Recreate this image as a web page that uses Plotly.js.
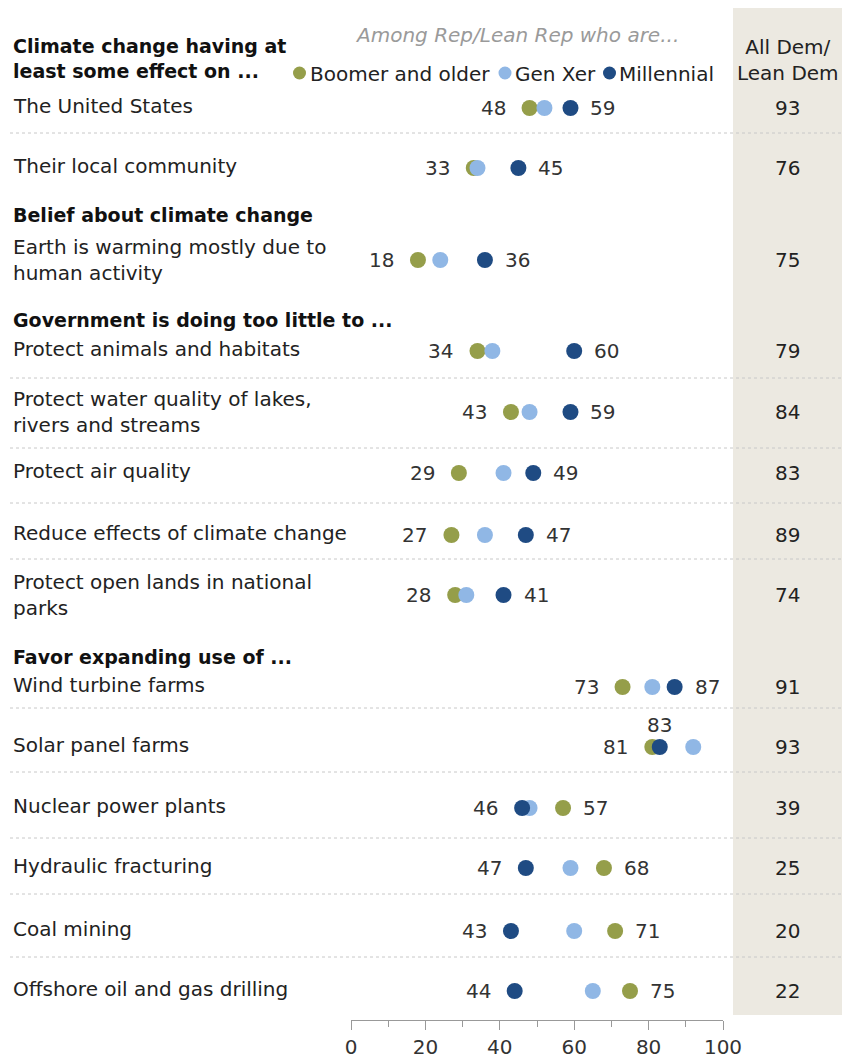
<!DOCTYPE html>
<html>
<head>
<meta charset="utf-8">
<script src="https://cdn.plot.ly/plotly-3.0.1.min.js"></script>
<style>html,body{margin:0;padding:0;background:#fff;}#chart{width:842px;height:1062px;}</style>
</head>
<body>
<div id="chart"></div>
<script>
// ---------- DATA ----------
var categories = [
  "The United States",
  "Their local community",
  "Earth is warming mostly due to<br>human activity",
  "Protect animals and habitats",
  "Protect water quality of lakes,<br>rivers and streams",
  "Protect air quality",
  "Reduce effects of climate change",
  "Protect open lands in national<br>parks",
  "Wind turbine farms",
  "Solar panel farms",
  "Nuclear power plants",
  "Hydraulic fracturing",
  "Coal mining",
  "Offshore oil and gas drilling"
];
var boomer     = [48, 33, 18, 34, 43, 29, 27, 28, 73, 81, 57, 68, 71, 75];
var genX       = [52, 34, 24, 38, 48, 41, 36, 31, 81, 92, 48, 59, 60, 65];
var millennial = [59, 45, 36, 60, 59, 49, 47, 41, 87, 83, 46, 47, 43, 44];
var allDem     = [93, 76, 75, 79, 84, 83, 89, 74, 91, 93, 39, 25, 20, 22];
var groupHeaders = [
  "Climate change having at<br>least some effect on ...",
  "Belief about climate change",
  "Government is doing too little to ...",
  "Favor expanding use of ..."
];
var seriesNames = ["Boomer and older", "Gen Xer", "Millennial"];
var xTickVals = [0, 20, 40, 60, 80, 100];
var xMinorTickVals = [10, 30, 50, 70, 90];

// ---------- LAYOUT CONSTANTS (pixel geometry) ----------
var W = 842, H = 1062;
var rowY = [108, 168, 260, 351, 412, 473, 535, 595, 687, 747, 808, 868, 931, 991];
var headerY = [58, 215, 320, 657];
var sepY = [133, 378, 448, 503, 559, 708, 772, 838, 894, 957];
var colors = ["#959e4a", "#90b7e5", "#1f4b83"];
var FONT = "DejaVu Sans, Arial, sans-serif";
var axisLineY = 1020;

function px(x) { return x / W; }

var traces = [boomer, genX, millennial].map(function (vals, i) {
  return {
    type: "scatter", mode: "markers", name: seriesNames[i],
    x: vals, y: rowY, cliponaxis: false, showlegend: false, hoverinfo: "skip",
    marker: { size: 16, color: colors[i], line: { width: 0 } }
  };
});

var annotations = [];
var shapes = [];

// gray column
shapes.push({ type: "rect", xref: "paper", yref: "y", x0: px(733), x1: 1, y0: 8, y1: 1015,
  fillcolor: "#ece9e1", line: { width: 0 }, layer: "below" });
// separators
sepY.forEach(function (y) {
  shapes.push({ type: "line", xref: "paper", yref: "y", x0: px(10), x1: 1, y0: y, y1: y,
    line: { color: "#c8c8c8", width: 1, dash: "dot" }, layer: "below" });
});

// group headers
groupHeaders.forEach(function (t, i) {
  annotations.push({ xref: "paper", yref: "y", x: px(11), y: headerY[i], xanchor: "left", yanchor: "middle",
    align: "left", showarrow: false, text: "<b>" + t + "</b>",
    font: { family: FONT, size: 19, color: "#111" } });
});

// row labels, values
categories.forEach(function (c, i) {
  var multi = c.indexOf("<br>") >= 0;
  annotations.push({ xref: "paper", yref: "y", x: px(11), y: rowY[i] - (multi ? 0 : 2), xanchor: "left", yanchor: "middle",
    align: "left", showarrow: false, text: c, font: { family: FONT, size: 20, color: "#222" } });
  // All Dem column
  annotations.push({ xref: "paper", yref: "y", x: px(787), y: rowY[i], xanchor: "center", yanchor: "middle",
    showarrow: false, text: String(allDem[i]), font: { family: FONT, size: 20, color: "#222" } });
  // boomer / millennial labels
  var b = boomer[i], m = millennial[i];
  var lo = Math.min(b, m), hi = Math.max(b, m);
  annotations.push({ xref: "x", yref: "y", x: lo, y: rowY[i], xanchor: "right", yanchor: "middle", xshift: -22,
    showarrow: false, text: String(lo), font: { family: FONT, size: 20, color: "#333" } });
  if (hi - lo < 5) {
    annotations.push({ xref: "x", yref: "y", x: hi, y: rowY[i], xanchor: "center", yanchor: "middle", yshift: 22,
      showarrow: false, text: String(hi), font: { family: FONT, size: 20, color: "#333" } });
  } else {
    annotations.push({ xref: "x", yref: "y", x: hi, y: rowY[i], xanchor: "left", yanchor: "middle", xshift: 18,
      showarrow: false, text: String(hi), font: { family: FONT, size: 20, color: "#333" } });
  }
});

// legend header
annotations.push({ xref: "paper", yref: "y", x: px(517), y: 35, xanchor: "center", yanchor: "middle", showarrow: false,
  text: "<i>Among Rep/Lean Rep who are...</i>", font: { family: FONT, size: 20, color: "#9a9a9a" } });
// legend items
var legDotX = [299.5, 505, 609.5], legTextX = [308, 513, 617];
seriesNames.forEach(function (n, i) {
  shapes.push({ type: "circle", xref: "paper", yref: "y", x0: px(legDotX[i] - 6.5), x1: px(legDotX[i] + 6.5),
    y0: 73 - 6.5, y1: 73 + 6.5, fillcolor: colors[i], line: { width: 0 } });
  annotations.push({ xref: "paper", yref: "y", x: px(legTextX[i]), y: 74, xanchor: "left", yanchor: "middle", showarrow: false,
    text: n, font: { family: FONT, size: 20, color: "#222" } });
});
// All Dem header
annotations.push({ xref: "paper", yref: "y", x: px(788), y: 60, xanchor: "center", yanchor: "middle", showarrow: false,
  text: "All Dem/<br>Lean Dem", font: { family: FONT, size: 20, color: "#222" } });

var layout = {
  width: W, height: H,
  margin: { l: 0, r: 0, t: 0, b: 0, pad: 0 },
  paper_bgcolor: "#fff", plot_bgcolor: "rgba(0,0,0,0)",
  showlegend: false,
  xaxis: {
    domain: [px(351), px(723)], range: [0, 100], anchor: "free", position: (H - axisLineY) / H,
    showgrid: false, zeroline: false, showline: true, linecolor: "#999", linewidth: 1,
    tickmode: "array", tickvals: xTickVals, ticktext: xTickVals.map(String),
    ticks: "outside", ticklen: 9, tickcolor: "#999", tickwidth: 1,
    minor: { tickmode: "array", tickvals: xMinorTickVals, ticks: "outside", ticklen: 6, tickcolor: "#999", tickwidth: 1, showgrid: false },
    tickfont: { family: FONT, size: 20, color: "#333" }, fixedrange: true
  },
  yaxis: { domain: [0, 1], range: [H, 0], visible: false, fixedrange: true, showgrid: false, zeroline: false },
  shapes: shapes,
  annotations: annotations
};

Plotly.newPlot("chart", traces, layout, { staticPlot: true, displayModeBar: false });
</script>
</body>
</html>
